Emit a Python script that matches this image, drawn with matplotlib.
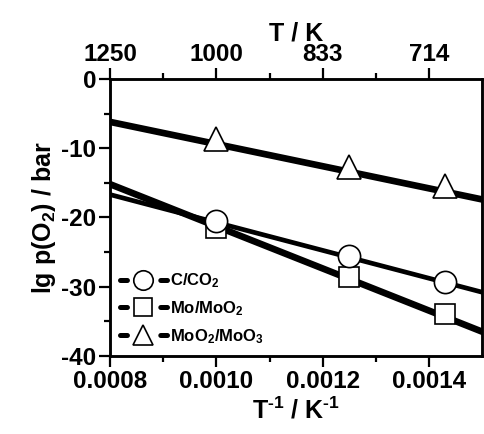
import matplotlib
matplotlib.use("Agg")
import matplotlib.pyplot as plt
from matplotlib.lines import Line2D
from matplotlib.legend_handler import HandlerTuple

# ── datos ──────────────────────────────────────────────────────────────────
x_pts = [0.00100, 0.00125, 0.00143]
c_co2 = [-20.5, -25.6, -29.3]
mo_moo2 = [-21.5, -28.6, -34.0]
moo2_moo3 = [-8.6, -12.7, -15.5]

# rectas ajustadas (extremos a x = 0.0008 y 0.0015)
x_fit = [0.0008, 0.0015]
c_co2_fit = [-16.7, -30.8]
mo_moo2_fit = [-15.2, -36.5]
moo2_moo3_fit = [-6.2, -17.4]

xticks = [0.0008, 0.0010, 0.0012, 0.0014]
xticklabels = ["0.0008", "0.0010", "0.0012", "0.0014"]
top_ticklabels = ["1250", "1000", "833", "714"]
yticks = [0, -10, -20, -30, -40]

plt.rcParams["font.family"] = ["Liberation Sans", "DejaVu Sans"]
plt.rcParams["font.weight"] = "bold"
plt.rcParams["mathtext.fontset"] = "custom"
plt.rcParams["mathtext.rm"] = "Liberation Sans:bold"
plt.rcParams["mathtext.bf"] = "Liberation Sans:bold"
plt.rcParams["mathtext.default"] = "bf"
plt.rcParams["lines.scale_dashes"] = False
plt.rcParams["axes.unicode_minus"] = False

fig = plt.figure(figsize=(4.85, 4.34), dpi=100)
ax = fig.add_axes([0.227, 0.180, 0.767, 0.638])

ax.plot(x_fit, moo2_moo3_fit, color="k", lw=4.8, zorder=2)
ax.plot(x_fit, mo_moo2_fit, color="k", lw=4.8, zorder=2)
ax.plot(x_fit, c_co2_fit, color="k", lw=3.4, zorder=2)

mk = dict(ls="none", mfc="white", mec="k", mew=1.2, zorder=3)
ax.plot(x_pts, mo_moo2, marker="s", ms=14, **mk)
ax.plot(x_pts, c_co2, marker="o", ms=16, **mk)
ax.plot(x_pts, moo2_moo3, marker="^", ms=17, **mk)

ax.set_xlim(0.0008, 0.0015)
ax.set_ylim(-40, 0)
ax.set_xticks(xticks)
ax.set_xticklabels(xticklabels)
ax.set_xticks([0.0009, 0.0011, 0.0013], minor=True)
ax.set_yticks(yticks)
ax.set_yticks([-5, -15, -25, -35], minor=True)

ax.set_xlabel(r"T$^{\text{-1}}$ / K$^{\text{-1}}$", fontsize=18,
              fontweight="bold", labelpad=3)
ax.set_ylabel("lg p(O$_2$) / bar", fontsize=18, fontweight="bold", labelpad=2)

for s in ax.spines.values():
    s.set_linewidth(1.8)
ax.tick_params(which="major", direction="out", length=8, width=1.6,
               labelsize=17.5, right=False, pad=2)
ax.tick_params(which="minor", direction="out", length=4.5, width=1.6)

top = ax.twiny()
top.set_xlim(ax.get_xlim())
top.set_xticks(xticks)
top.set_xticklabels(top_ticklabels)
top.set_xticks([0.0009, 0.0011, 0.0013], minor=True)
top.tick_params(which="major", direction="out", length=8, width=1.6,
                labelsize=17.5, pad=1)
top.tick_params(which="minor", direction="out", length=4.5, width=1.6)
top.set_xlabel("T / K", fontsize=18, fontweight="bold", labelpad=2)
for s in top.spines.values():
    s.set_linewidth(1.8)

# leyenda estilo Origin: trazo - marcador - trazo
def entrada(marker, ms):
    seg = Line2D([], [], color="k", lw=3.6, dashes=[5, 24, 5, 100],
                 dash_capstyle="round")
    m = Line2D([], [], ls="none", marker=marker, ms=ms, mfc="white",
               mec="k", mew=1.2)
    return (seg, m)

handles = [entrada("o", 14), entrada("s", 13), entrada("^", 15)]
labels = ["C/CO$_2$", "Mo/MoO$_2$", "MoO$_2$/MoO$_3$"]
ax.legend(handles, labels, loc="lower left", frameon=False, fontsize=12,
          handlelength=2.8, handletextpad=0.2, labelspacing=0.55,
          borderaxespad=0.2, handler_map={tuple: HandlerTuple(ndivide=1)})

fig.savefig("out.png", dpi=100)
